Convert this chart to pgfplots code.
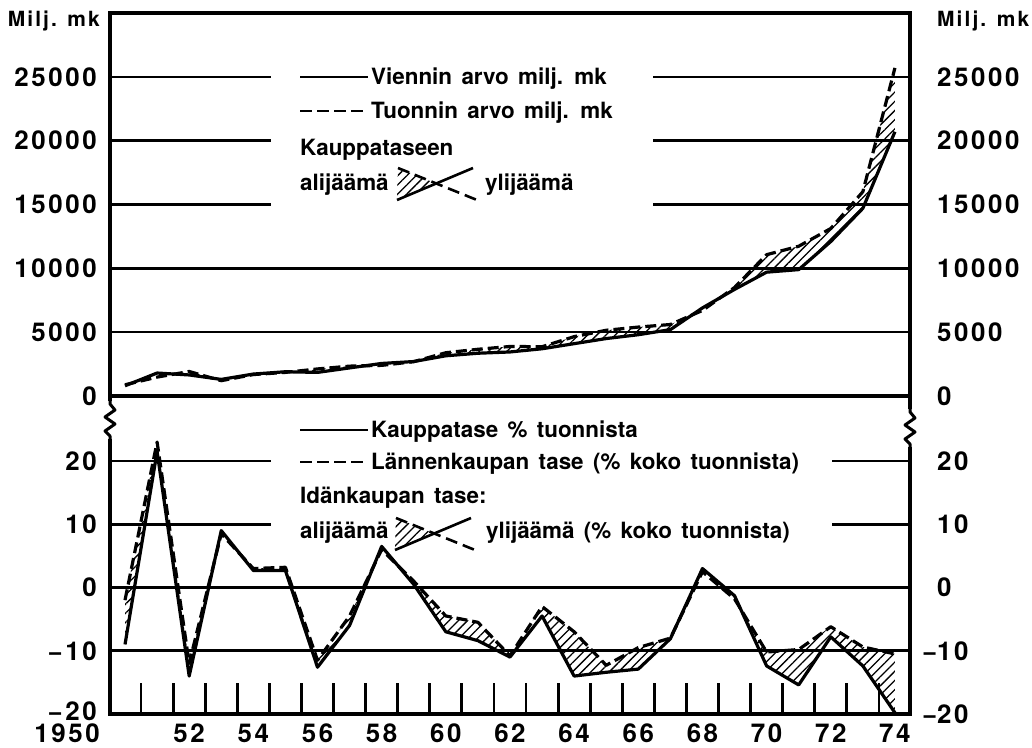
\documentclass[border=0pt]{standalone}
\usepackage{fontspec}
\setmainfont{TeX Gyre Heros}
\newfontfamily\tickf[LetterSpace=10]{TeX Gyre Heros}
\newfontfamily\lgdf[WordSpace=1.5]{TeX Gyre Heros}
\usepackage{pgfplots}
\usepackage{pgfplotstable}
\pgfplotsset{compat=1.18}
\usepgfplotslibrary{fillbetween}
\usetikzlibrary{patterns.meta}

\pgfplotstableread{
year E I
1950 800 880
1951 1800 1480
1952 1650 1920
1953 1300 1200
1954 1720 1680
1955 1900 1850
1956 1850 2120
1957 2200 2340
1958 2550 2400
1959 2700 2690
1960 3150 3390
1961 3350 3660
1962 3450 3880
1963 3700 3860
1964 4100 4650
1965 4500 5150
1966 4800 5400
1967 5200 5600
1968 6900 6700
1969 8350 8500
1970 9700 11070
1971 9900 11730
1972 12100 13120
1973 14700 16000
1974 20700 25700
}\toptable

\pgfplotstableread{
year S D
1950 -9 -2
1951 21.5 23
1952 -14 -12
1953 9 8.5
1954 2.7 3
1955 2.7 3.2
1956 -12.6 -11.5
1957 -6 -4.5
1958 6.5 6
1959 0.5 1
1960 -7 -4.5
1961 -8.4 -5.5
1962 -11 -10.8
1963 -4.5 -3
1964 -14 -7
1965 -13.4 -12.3
1966 -12.9 -9.5
1967 -8.1 -8
1968 3 2.5
1969 -1.3 -1.8
1970 -12.4 -10.2
1971 -15.4 -9.8
1972 -7.8 -6.2
1973 -12.4 -9.4
1974 -19.8 -10.5
}\bottable

\tikzset{
  hatch/.style={pattern={Lines[angle=45,distance=6.5bp,line width=1.3bp]}},
  dline/.style={dash pattern=on 11bp off 5bp},
}
\pgfplotsset{
  mybase/.style={
    scale only axis, width=800bp,
    xmin=1949.532, xmax=1974.47,
    axis line style={line width=3.5bp},
    major tick length=0pt,
    scaled ticks=false,
    tick label style={font=\tickf\bfseries\fontsize{26}{28}\selectfont, inner sep=0pt},
    grid style={line width=2.6bp, black},
  },
  every axis plot/.append style={black, line width=3.2bp, line join=round},
}
\newcommand{\lgd}{\lgdf\bfseries\fontsize{22.5}{26}\selectfont}

\begin{document}
\begin{tikzpicture}[x=1bp,y=1bp]

% ---------- top chart ----------
\begin{axis}[mybase, at={(110bp,-396bp)}, anchor=south west, height=383bp,
  ymin=0, ymax=30000, xtick=\empty,
  ytick={0,5000,10000,15000,20000,25000},
  yticklabels={0,5000,10000,15000,20000,25000},
  ymajorgrids,
  yticklabel style={anchor=east, xshift=-13bp}]
\addplot[name path=E] table[x=year,y=E]{\toptable};
\addplot[name path=I, dline] table[x=year,y=I]{\toptable};
\addplot[draw=none, fill=none] fill between[of=I and E, split,
  every even segment/.style={hatch}];
\end{axis}
\begin{axis}[mybase, at={(110bp,-396bp)}, anchor=south west, height=383bp,
  ymin=0, ymax=30000, xtick=\empty, axis line style={draw=none},
  ytick={0,5000,10000,15000,20000,25000},
  yticklabels={0,5000,10000,15000,20000,25000},
  yticklabel pos=right,
  yticklabel style={anchor=west, xshift=27bp}]
\addplot[draw=none] table[x=year,y=E]{\toptable};
\end{axis}

% ---------- bottom chart ----------
\begin{axis}[mybase, at={(110bp,-714bp)}, anchor=south west, height=318bp,
  ymin=-20, ymax=30.28,
  ytick={-10,0,10,20},
  yticklabels={−10,0,10,20},
  extra y ticks={-20}, extra y tick labels={−20},
  extra y tick style={grid=none, yticklabel style={yshift=3bp}},
  ymajorgrids,
  yticklabel style={anchor=east, xshift=-13bp},
  xtick={1952,1954,...,1974},
  xticklabels={52,54,56,58,60,62,64,66,68,70,72,74},
  extra x ticks={1950}, extra x tick labels={1950},
  extra x tick style={grid=none, xticklabel style={anchor=north east, xshift=-25bp}},
  xticklabel style={anchor=north, yshift=-10bp},
  minor xtick={1950.5,1951.5,1952.5,1953.5,1954.5,1955.5,1956.5,1957.5,1958.5,1959.5,1960.5,1961.5,1962.5,1963.5,1964.5,1965.5,1966.5,1967.5,1968.5,1969.5,1970.5,1971.5,1972.5,1973.5},
  minor tick length=31bp, tick align=inside, xtick pos=bottom,
  every minor tick/.append style={line width=2.8bp, black}]
\addplot[name path=S] table[x=year,y=S]{\bottable};
\addplot[name path=D, dline] table[x=year,y=D]{\bottable};
\addplot[draw=none, fill=none] fill between[of=D and S, split,
  every even segment/.style={hatch}];
\end{axis}
\begin{axis}[mybase, at={(110bp,-714bp)}, anchor=south west, height=318bp,
  ymin=-20, ymax=30.28, xtick=\empty, axis line style={draw=none},
  ytick={-20,-10,0,10,20},
  yticklabels={\llap{−}20,\llap{−}10,0,10,20},
  yticklabel pos=right,
  yticklabel style={anchor=west, xshift=27bp}]
\addplot[draw=none] table[x=year,y=S]{\bottable};
\end{axis}

% ---------- gaps in grid lines behind legends ----------
\fill[white] (271,-58) rectangle (653,-216);
\fill[white] (271,-440) rectangle (832,-542);

% ---------- axis breaks ----------
\fill[white] (104,-401) rectangle (116,-439);
\draw[line width=3bp, line join=round] (110,-399) -- (110,-404) -- (115,-410) -- (105,-417) -- (115,-424) -- (105,-431) -- (110,-436) -- (110,-441);
\fill[white] (904,-409) rectangle (916,-447);
\draw[line width=3bp, line join=round] (910,-407) -- (910,-412) -- (915,-418) -- (905,-425) -- (915,-432) -- (905,-439) -- (910,-444) -- (910,-449);

% ---------- unit labels ----------
\node[anchor=base east, inner sep=0pt, font=\tickf\bfseries\fontsize{21}{22}\selectfont] at (100,-27) {Milj. mk};
\node[anchor=base west, inner sep=0pt, font=\tickf\bfseries\fontsize{21}{22}\selectfont] at (937,-27) {Milj. mk};

% ---------- top legend ----------
\draw[line width=2.6bp] (300,-77) -- (368,-77);
\draw[line width=2.6bp, dash pattern=on 12bp off 5bp] (300,-111) -- (368,-111);
\node[anchor=base west, inner sep=0pt, font=\lgd] at (371,-85) {Viennin arvo milj. mk};
\node[anchor=base west, inner sep=0pt, font=\lgd] at (371,-118) {Tuonnin arvo milj. mk};
\node[anchor=base west, inner sep=0pt, font=\lgd] at (300,-155) {Kauppataseen};
\node[anchor=base west, inner sep=0pt, font=\lgd] at (300,-190) {alijäämä};
\node[anchor=base west, inner sep=0pt, font=\lgd] at (485,-190) {ylijäämä};
\fill[hatch] (397,-200) -- (398,-168) -- (436,-183.5) -- cycle;
\draw[line width=2.6bp] (397,-200) -- (473,-168);
\draw[line width=2.6bp, dash pattern=on 12bp off 6bp] (398,-168) -- (477,-200);

% ---------- bottom legend ----------
\draw[line width=2.6bp] (300,-430) -- (368,-430);
\draw[line width=2.6bp, dash pattern=on 12bp off 5bp] (300,-462) -- (368,-462);
\node[anchor=base west, inner sep=0pt, font=\lgd] at (371,-437) {Kauppatase \% tuonnista};
\node[anchor=base west, inner sep=0pt, font=\lgd] at (371,-469) {Lännenkaupan tase (\% koko tuonnista)};
\node[anchor=base west, inner sep=0pt, font=\lgd] at (300,-503) {Idänkaupan tase:};
\node[anchor=base west, inner sep=0pt, font=\lgd] at (300,-538) {alijäämä};
\node[anchor=base west, inner sep=0pt, font=\lgd] at (486,-538) {ylijäämä (\% koko tuonnista)};
\fill[hatch] (395,-550) -- (396,-518) -- (434,-533.5) -- cycle;
\draw[line width=2.6bp] (395,-550) -- (471,-518);
\draw[line width=2.6bp, dash pattern=on 12bp off 6bp] (396,-518) -- (475,-550);

\pgfresetboundingbox
\path[use as bounding box] (0,0) rectangle (1032,-748);
\end{tikzpicture}
\end{document}
